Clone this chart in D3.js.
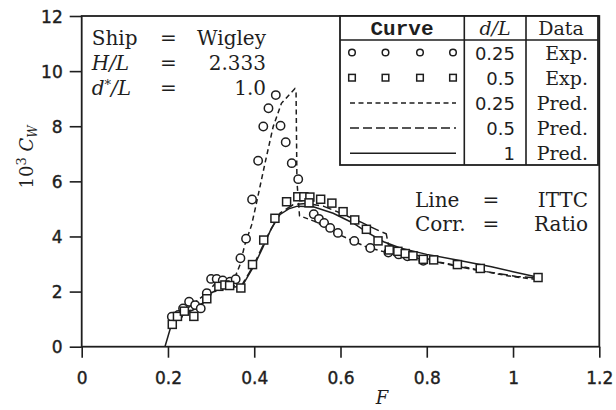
<!DOCTYPE html>
<html>
<head>
<meta charset="utf-8">
<script src="https://cdn.jsdelivr.net/npm/d3@7"></script>
<style>
  body { margin: 0; background: #fff; }
  svg text { fill: #1e1e1e; }
</style>
</head>
<body>
<div class="wrapper"></div>
<script>
// measured data, F vs 10^3 Cw
const expQuarter = [
  [0.209, 1.09], [0.224, 1.15], [0.235, 1.39], [0.249, 1.63], [0.263, 1.51],
  [0.276, 1.39], [0.290, 1.94], [0.300, 2.46], [0.313, 2.46], [0.327, 2.40],
  [0.344, 2.36], [0.357, 2.45], [0.368, 3.21], [0.381, 3.92], [0.395, 5.34],
  [0.409, 6.75], [0.421, 7.99], [0.433, 8.65], [0.450, 9.13], [0.461, 8.02],
  [0.473, 7.42], [0.487, 6.66], [0.502, 6.08], [0.538, 4.81], [0.550, 4.64],
  [0.562, 4.49], [0.576, 4.31], [0.594, 4.13], [0.632, 3.84], [0.669, 3.58],
  [0.711, 3.42], [0.735, 3.35], [0.755, 3.28], [0.792, 3.12]
];
const expHalf = [
  [0.210, 0.81], [0.222, 1.10], [0.238, 1.29], [0.260, 1.10], [0.290, 1.74],
  [0.318, 2.19], [0.332, 2.24], [0.343, 2.22], [0.369, 2.13], [0.396, 2.98],
  [0.422, 3.87], [0.448, 4.66], [0.475, 5.26], [0.501, 5.44], [0.515, 5.44],
  [0.529, 5.43], [0.527, 5.22], [0.554, 5.35], [0.580, 5.21], [0.606, 4.90],
  [0.633, 4.60], [0.660, 4.26], [0.687, 3.84], [0.713, 3.51], [0.733, 3.46],
  [0.750, 3.38], [0.768, 3.30], [0.792, 3.17], [0.816, 3.15], [0.871, 2.98],
  [0.924, 2.84], [1.058, 2.51]
];
// predictions
const predQuarter = [
  [0.212, 1.0], [0.25, 1.45], [0.29, 1.95], [0.31, 2.3], [0.34, 2.35],
  [0.356, 2.55], [0.367, 2.97], [0.378, 3.69], [0.394, 4.42], [0.405, 5.2],
  [0.425, 6.66], [0.444, 7.99], [0.463, 8.83], [0.494, 9.36], [0.497, 9.2],
  [0.499, 6.0], [0.505, 4.75], [0.54, 4.55], [0.58, 4.2], [0.62, 3.9],
  [0.66, 3.62], [0.70, 3.45], [0.75, 3.3], [0.8, 3.15], [0.87, 2.95],
  [0.95, 2.68], [1.0, 2.54], [1.05, 2.45]
];
const predHalf = [
  [0.21, 0.9], [0.24, 1.22], [0.28, 1.58], [0.30, 1.9], [0.32, 2.13],
  [0.35, 2.2], [0.372, 2.25], [0.40, 3.0], [0.43, 4.0], [0.46, 4.85],
  [0.49, 5.15], [0.52, 5.2], [0.56, 5.1], [0.60, 4.85], [0.65, 4.5],
  [0.69, 4.2], [0.706, 4.1], [0.711, 3.7], [0.75, 3.45], [0.83, 3.05],
  [0.907, 2.8], [1.008, 2.55], [1.05, 2.5]
];
const predOne = [
  [0.193, 0], [0.209, 0.85], [0.22, 1.0], [0.24, 1.2], [0.26, 1.35],
  [0.28, 1.55], [0.30, 1.95], [0.32, 2.1], [0.345, 2.15], [0.372, 2.2],
  [0.40, 2.95], [0.42, 3.6], [0.44, 4.3], [0.46, 4.8], [0.48, 5.0],
  [0.50, 5.1], [0.537, 5.08], [0.583, 4.84], [0.63, 4.48], [0.66, 4.17],
  [0.70, 3.81], [0.74, 3.57], [0.8, 3.35], [0.87, 3.15], [0.95, 2.9],
  [1.0, 2.72], [1.05, 2.55]
];

const xTicks = [0, 0.2, 0.4, 0.6, 0.8, 1, 1.2];
const yTicks = [0, 2, 4, 6, 8, 10, 12];

const legendRows = [
  { kind: "circle", dl: "0.25", data: "Exp." },
  { kind: "square", dl: "0.5", data: "Exp." },
  { kind: "short", dl: "0.25", data: "Pred." },
  { kind: "long", dl: "0.5", data: "Pred." },
  { kind: "solid", dl: "1", data: "Pred." }
];

const ink = "#1e1e1e";
const shortDash = "5,3.5";
const longDash = "9,4";

const svg = d3.select(".wrapper").append("svg")
  .attr("width", 616).attr("height", 410);

const x = d3.scaleLinear().domain([0, 1.2]).range([81.7, 599.3]);
const y = d3.scaleLinear().domain([0, 12]).range([346.7, 16]);

// axes
const xAxis = svg.append("g")
  .attr("transform", "translate(0," + y(0) + ")")
  .call(d3.axisBottom(x).tickValues(xTicks).tickSize(11).tickSizeOuter(0).tickPadding(14)
    .tickFormat(d => d === 0 ? "0" : String(+d.toFixed(1))));
const yAxis = svg.append("g")
  .attr("transform", "translate(" + x(0) + ",0)")
  .call(d3.axisLeft(y).tickValues(yTicks).tickSize(12).tickSizeOuter(0).tickPadding(7));

[xAxis, yAxis].forEach(g => {
  g.select(".domain").remove();
  g.selectAll("line").attr("stroke", ink).attr("stroke-width", 1.6);
  g.selectAll("text")
    .style("font-family", "'DejaVu Sans', sans-serif")
    .style("font-size", "17px")
    .attr("fill", ink)
    .attr("stroke", ink).attr("stroke-width", 0.4);
});
yAxis.selectAll("text").attr("dy", "0.36em");
xAxis.selectAll("text").attr("dy", "0.71em");

// frame
svg.append("rect")
  .attr("x", x(0)).attr("y", y(12))
  .attr("width", x(1.2) - x(0)).attr("height", y(0) - y(12))
  .attr("fill", "none").attr("stroke", ink).attr("stroke-width", 1.8);

// curves
const line = d3.line().x(d => x(d[0])).y(d => y(d[1]));
const curves = [
  { data: predOne, dash: null },
  { data: predHalf, dash: longDash },
  { data: predQuarter, dash: shortDash }
];
curves.forEach(c => {
  svg.append("path")
    .datum(c.data)
    .attr("d", line)
    .attr("fill", "none")
    .attr("stroke", ink)
    .attr("stroke-width", 1.5)
    .attr("stroke-dasharray", c.dash);
});

// markers
svg.selectAll("circle.exp")
  .data(expQuarter)
  .enter().append("circle")
  .attr("class", "exp")
  .attr("cx", d => x(d[0])).attr("cy", d => y(d[1]))
  .attr("r", 4.2)
  .attr("fill", "#fff").attr("stroke", ink).attr("stroke-width", 1.5);

svg.selectAll("rect.exp")
  .data(expHalf)
  .enter().append("rect")
  .attr("class", "exp")
  .attr("x", d => x(d[0]) - 4).attr("y", d => y(d[1]) - 4)
  .attr("width", 8).attr("height", 8)
  .attr("fill", "#fff").attr("stroke", ink).attr("stroke-width", 1.5);

// annotation top left
const serif = "'DejaVu Serif', serif";
const note = svg.append("g").style("font-family", serif).style("font-size", "20px");
const noteRows = [
  { label: "Ship", italic: false, value: "Wigley" },
  { label: "H/L", italic: true, value: "2.333" },
  { label: "d*/L", italic: true, value: "1.0" }
];
noteRows.forEach((r, i) => {
  const by = 45 + i * 25;
  const t = note.append("text").attr("x", 91.7).attr("y", by);
  if (r.label === "d*/L") {
    t.append("tspan").style("font-style", "italic").text("d");
    t.append("tspan").attr("dy", -6).style("font-size", "13px").text("*");
    t.append("tspan").attr("dy", 6).style("font-style", "italic").text("/L");
  } else {
    t.style("font-style", r.italic ? "italic" : "normal").text(r.label);
  }
  note.append("text").attr("x", 168.5).attr("y", by).attr("text-anchor", "middle").text("=");
  note.append("text").attr("x", 266).attr("y", by).attr("text-anchor", "end").text(r.value);
});

// annotation right
const note2 = svg.append("g").style("font-family", serif).style("font-size", "20px");
[["Line", "ITTC"], ["Corr.", "Ratio"]].forEach((r, i) => {
  const by = 207 + i * 23.5;
  note2.append("text").attr("x", 415).attr("y", by).text(r[0]);
  note2.append("text").attr("x", 491).attr("y", by).attr("text-anchor", "middle").text("=");
  note2.append("text").attr("x", 588).attr("y", by).attr("text-anchor", "end").text(r[1]);
});

// legend table
const lg = svg.append("g");
const tl = 340, tr = 598, tt = 16, tb = 165, c1 = 464.3, c2 = 526;
lg.append("rect").attr("x", tl).attr("y", tt).attr("width", tr - tl).attr("height", tb - tt)
  .attr("fill", "#fff").attr("stroke", ink).attr("stroke-width", 1.8);
lg.append("line").attr("x1", tl).attr("x2", tr).attr("y1", 40).attr("y2", 40)
  .attr("stroke", ink).attr("stroke-width", 1.6);
[c1, c2].forEach(cx => lg.append("line").attr("x1", cx).attr("x2", cx).attr("y1", tt).attr("y2", tb)
  .attr("stroke", ink).attr("stroke-width", 1.6));

lg.append("text").attr("x", 402).attr("y", 35).attr("text-anchor", "middle")
  .style("font-family", "'Liberation Mono', monospace").style("font-weight", "bold")
  .style("font-size", "21px").text("Curve");
lg.append("text").attr("x", 495).attr("y", 35).attr("text-anchor", "middle")
  .style("font-family", serif).style("font-style", "italic").style("font-size", "19px").text("d/L");
lg.append("text").attr("x", 561).attr("y", 35).attr("text-anchor", "middle")
  .style("font-family", serif).style("font-size", "19px").text("Data");

const markX = [352, 385.5, 420, 453];
legendRows.forEach((r, i) => {
  const cy = 52.5 + i * 25.2;
  const by = cy + 7;
  if (r.kind === "circle") {
    markX.forEach(mx => lg.append("circle").attr("cx", mx).attr("cy", cy).attr("r", 3.3)
      .attr("fill", "#fff").attr("stroke", ink).attr("stroke-width", 1.5));
  } else if (r.kind === "square") {
    markX.forEach(mx => lg.append("rect").attr("x", mx - 3.3).attr("y", cy - 3.3)
      .attr("width", 6.6).attr("height", 6.6)
      .attr("fill", "#fff").attr("stroke", ink).attr("stroke-width", 1.5));
  } else {
    lg.append("line").attr("x1", 350).attr("x2", 456).attr("y1", cy).attr("y2", cy)
      .attr("stroke", ink).attr("stroke-width", 1.5)
      .attr("stroke-dasharray", r.kind === "short" ? shortDash : r.kind === "long" ? longDash : null);
  }
  lg.append("text").attr("x", 515).attr("y", by).attr("text-anchor", "end")
    .style("font-family", "'DejaVu Sans', sans-serif").style("font-size", "18px").text(r.dl);
  lg.append("text").attr("x", 588).attr("y", by).attr("text-anchor", "end")
    .style("font-family", serif).style("font-size", "19px").text(r.data);
});

// axis titles
const yt = svg.append("text")
  .attr("transform", "translate(33,157) rotate(-90)")
  .attr("text-anchor", "middle")
  .style("font-family", serif).style("font-size", "18px");
yt.append("tspan").text("10");
yt.append("tspan").attr("dy", -7).style("font-size", "13px").text("3");
yt.append("tspan").attr("dy", 7).style("font-style", "italic").text(" C");
yt.append("tspan").attr("dy", 4).style("font-style", "italic").style("font-size", "12px").text("W");

svg.append("text")
  .attr("x", 382).attr("y", 404).attr("text-anchor", "middle")
  .style("font-family", serif).style("font-style", "italic").style("font-size", "18px")
  .text("F");
</script>
</body>
</html>
